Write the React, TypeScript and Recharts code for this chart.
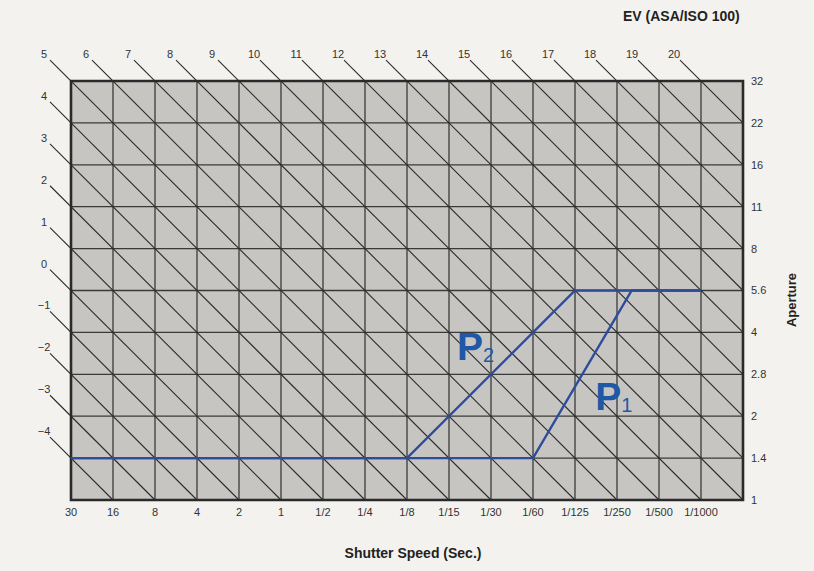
import React from 'react';
import {
  ComposedChart,
  XAxis,
  YAxis,
  CartesianGrid,
  Line,
  ReferenceLine,
  ReferenceDot,
  ReferenceArea,
} from 'recharts';

// Shutter speeds (one per grid column, left to right)
const shutterLabels = ['30', '16', '8', '4', '2', '1', '1/2', '1/4', '1/8', '1/15', '1/30', '1/60', '1/125', '1/250', '1/500', '1/1000'];
// Apertures (one per grid row, bottom to top)
const apertureLabels = ['1', '1.4', '2', '2.8', '4', '5.6', '8', '11', '16', '22', '32'];
// EV lines drawn across the grid (ASA/ISO 100)
const evValues = [-4, -3, -2, -1, 0, 1, 2, 3, 4, 5, 6, 7, 8, 9, 10, 11, 12, 13, 14, 15, 16, 17, 18, 19, 20];
// EV value at the lower-left corner (30 s, f/1)
const evAtOrigin = -5;

// Program lines: speed = column index, stop = aperture row index
const programP1 = [
  { speed: 0, stop: 1 },
  { speed: 11, stop: 1 },
  { speed: 13.35, stop: 5 },
  { speed: 15, stop: 5 },
];
const programP2 = [
  { speed: 0, stop: 1 },
  { speed: 8, stop: 1 },
  { speed: 12, stop: 5 },
  { speed: 15, stop: 5 },
];
// Annotation anchors (data coordinates, left/baseline of the letter)
const labelP1 = { speed: 12.48, stop: 2.15, main: 'P', sub: '1' };
const labelP2 = { speed: 9.19, stop: 3.34, main: 'P', sub: '2' };

const xMax = shutterLabels.length; // 16
const yMax = apertureLabels.length - 1; // 10

const FONT = '"Liberation Sans", Arial, Helvetica, sans-serif';
const INK = '#2b2b2b';
const BLUE = '#2d4c9c';
const PBLUE = '#1f58a6';

function evGeometry(ev: number) {
  const c = ev - evAtOrigin; // speed + stop = c
  const start = c >= yMax ? { x: c - yMax, y: yMax } : { x: 0, y: c };
  const end = c <= xMax ? { x: c, y: 0 } : { x: xMax, y: c - xMax };
  return { start, end };
}

const LEAD = 0.5;
const LABEL_OFF = 0.64;

function renderPLabel(main: string, sub: string) {
  return (props: any) => {
    const vb = props.viewBox || {};
    const x = vb.x ?? vb.cx ?? 0;
    const y = vb.y ?? vb.cy ?? 0;
    return (
      <text x={x} y={y} fill={PBLUE} fontFamily={FONT} fontWeight="bold" fontSize={39}>
        {main}
        <tspan fontSize={20} fontWeight="normal" dx={0} dy={2}>
          {sub}
        </tspan>
      </text>
    );
  };
}

export default function App() {
  return (
    <div style={{ position: 'absolute', left: 0, top: 0, width: 814, height: 571, background: '#f4f2ee', fontFamily: FONT }}>
      <div
        style={{
          position: 'absolute',
          left: 623,
          top: 8,
          fontSize: 14,
          fontWeight: 'bold',
          color: '#222',
          whiteSpace: 'nowrap',
        }}
      >
        EV (ASA/ISO 100)
      </div>
      <div
        style={{
          position: 'absolute',
          left: 791,
          top: 300,
          transform: 'translate(-50%, -50%) rotate(-90deg)',
          fontSize: 13,
          fontWeight: 'bold',
          color: '#222',
          whiteSpace: 'nowrap',
        }}
      >
        Aperture
      </div>
      <div
        style={{
          position: 'absolute',
          left: 413,
          top: 553,
          transform: 'translate(-50%, -50%)',
          fontSize: 14,
          fontWeight: 'bold',
          color: '#222',
          whiteSpace: 'nowrap',
        }}
      >
        Shutter Speed (Sec.)
      </div>
      <ComposedChart
        width={814}
        height={571}
        margin={{ top: 81, left: 71, right: 31, bottom: 41 }}
        style={{ position: 'absolute', left: 0, top: 0 }}
      >
        <CartesianGrid fill="#c7c5c2" fillOpacity={1} stroke="#3a3a3a" strokeWidth={1.3} />
        <XAxis
          type="number"
          dataKey="speed"
          domain={[0, xMax]}
          allowDataOverflow
          ticks={shutterLabels.map((_, i) => i)}
          tickFormatter={(v: number) => shutterLabels[v] ?? ''}
          axisLine={false}
          tickLine={false}
          height={30}
          interval={0}
          tick={{ fontSize: 11, fill: '#333', fontFamily: FONT }}
        />
        <YAxis
          type="number"
          orientation="right"
          domain={[0, yMax]}
          allowDataOverflow
          ticks={apertureLabels.map((_, i) => i)}
          tickFormatter={(v: number) => apertureLabels[v] ?? ''}
          axisLine={false}
          tickLine={false}
          width={40}
          interval={0}
          tick={{ fontSize: 11, fill: '#333', fontFamily: FONT, textAnchor: 'start' }}
        />
        {evValues.map((ev) => {
          const { start, end } = evGeometry(ev);
          return (
            <ReferenceLine
              key={'ev' + ev}
              segment={[
                { x: start.x - LEAD, y: start.y + LEAD },
                { x: end.x, y: end.y },
              ]}
              ifOverflow="visible"
              stroke={INK}
              strokeWidth={1.1}
            />
          );
        })}
        {evValues.map((ev) => {
          const { start } = evGeometry(ev);
          return (
            <ReferenceDot
              key={'evl' + ev}
              x={start.x - LABEL_OFF}
              y={start.y + LABEL_OFF}
              r={0}
              ifOverflow="visible"
              fill="none"
              stroke="none"
              label={{
                value: ev < 0 ? '\u2212' + Math.abs(ev) : String(ev),
                position: 'center',
                fontSize: 11,
                fill: '#333',
                fontFamily: FONT,
              }}
            />
          );
        })}
        <ReferenceArea x1={0} x2={xMax} y1={0} y2={yMax} fill="none" fillOpacity={0} stroke="#2a2a2a" strokeWidth={2.6} ifOverflow="visible" />
        <Line
          data={programP2}
          dataKey="stop"
          type="linear"
          stroke={BLUE}
          strokeWidth={2.4}
          dot={false}
          activeDot={false}
          isAnimationActive={false}
        />
        <Line
          data={programP1}
          dataKey="stop"
          type="linear"
          stroke={BLUE}
          strokeWidth={2.4}
          dot={false}
          activeDot={false}
          isAnimationActive={false}
        />
        <ReferenceDot
          x={labelP2.speed}
          y={labelP2.stop}
          r={0}
          fill="none"
          stroke="none"
          label={{ content: renderPLabel(labelP2.main, labelP2.sub) }}
        />
        <ReferenceDot
          x={labelP1.speed}
          y={labelP1.stop}
          r={0}
          fill="none"
          stroke="none"
          label={{ content: renderPLabel(labelP1.main, labelP1.sub) }}
        />
      </ComposedChart>
    </div>
  );
}
